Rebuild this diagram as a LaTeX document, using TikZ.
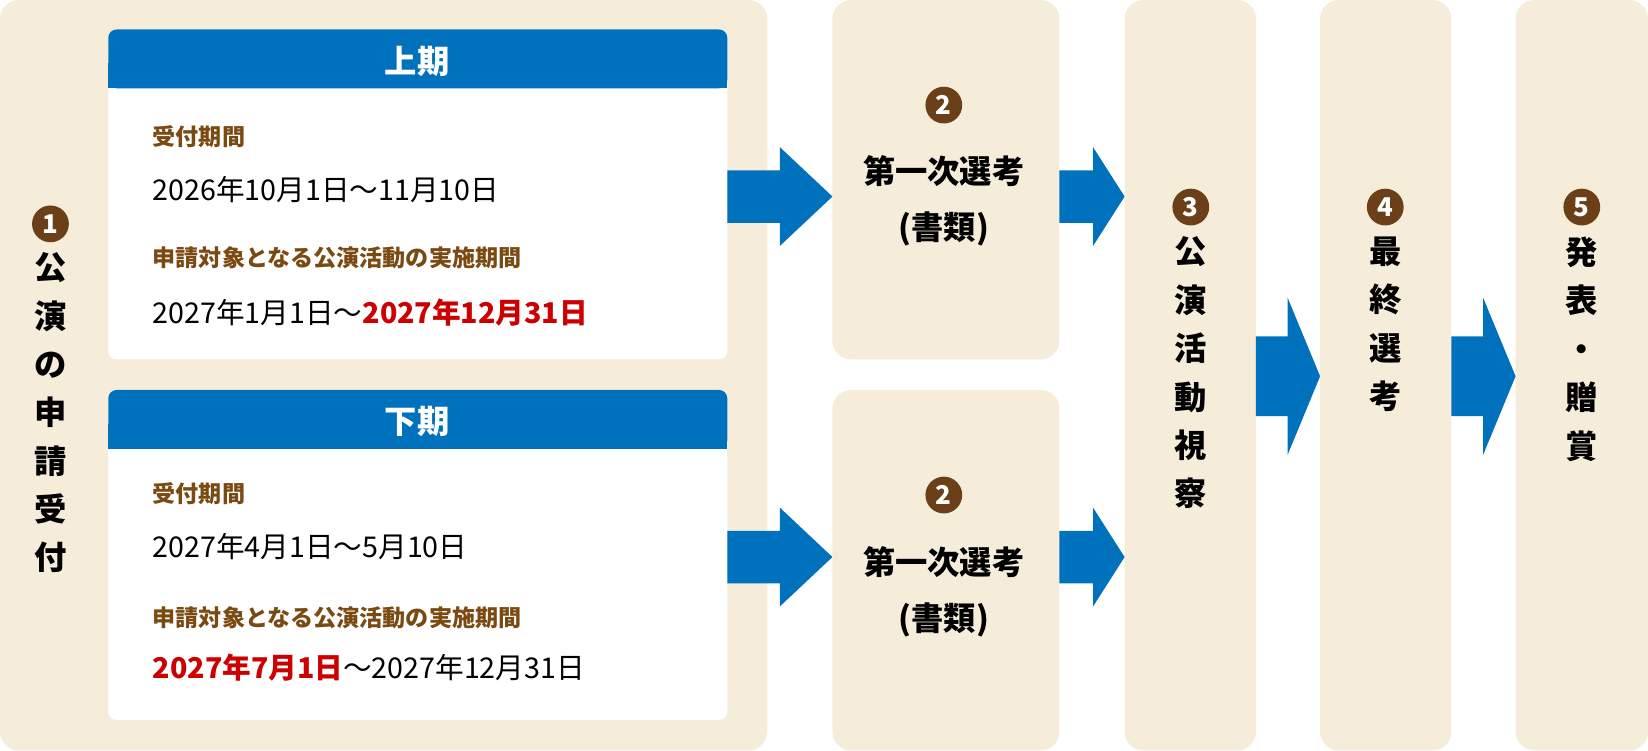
\documentclass[tikz,border=0pt]{standalone}
\usepackage{fontspec}
\setmainfont{Noto Sans CJK JP}
\usetikzlibrary{calc,positioning}
\definecolor{beige}{HTML}{F5ECD9}
\definecolor{hdblue}{HTML}{0071BC}
\definecolor{dotbrown}{HTML}{6B4019}
\definecolor{txbrown}{HTML}{7B4A12}
\definecolor{dred}{HTML}{CC0000}
\tikzset{
  panel/.style={fill=beige, rounded corners=0.36cm},
  card/.style={fill=white, rounded corners=0.16cm},
  head/.style={fill=hdblue, rounded corners=0.16cm},
  num/.style={circle, fill=dotbrown, text=white, minimum size=0.7cm, inner sep=0pt, font=\fontsize{14}{14}\selectfont\bfseries},
  label/.style={anchor=west, inner sep=0pt, text=txbrown, font=\fontsize{12.5}{14}\selectfont\bfseries},
  date/.style={anchor=west, inner sep=0pt, font=\fontsize{15.5}{18}\selectfont},
  big/.style={inner sep=0pt, font=\fontsize{17.5}{20}\selectfont\bfseries},
  vert/.style={anchor=north, inner sep=0pt, align=center, font=\fontsize{17.5}{26.2}\selectfont\bfseries},
}
\newcommand{\flowarrow}[5]{% x0, xh, x1, y, shaft half / head half
  \fill[hdblue] (#1,#4-#5) -- (#2,#4-#5) -- (#2,#4-2*#5+#5*0) -- cycle;}
\newcommand{\blockarrow}[6]{% x0 xh x1 y shafthalf headhalf
  \fill[hdblue] (#1,#4-#5) -- (#2,#4-#5) -- (#2,#4-#6) -- (#3,#4) -- (#2,#4+#6) -- (#2,#4+#5) -- (#1,#4+#5) -- cycle;}
\begin{document}
\begin{tikzpicture}[x=0.02cm, y=-0.02cm]
\useasboundingbox (0,0) rectangle (1568,714);
% panels
\fill[panel] (0,0) rectangle (730,714);
\fill[panel] (792,0) rectangle (1008,342);
\fill[panel] (792,371) rectangle (1008,714);
\fill[panel] (1070,0) rectangle (1195,714);
\fill[panel] (1256,0) rectangle (1381,714);
\fill[panel] (1442,0) rectangle (1568,714);
% step 1
\node[num] (n1) at (48,213) {1};
\node[vert] (t1) at (48,240) {公\\演\\の\\申\\請\\受\\付};
% upper term
\fill[card] (103,28) rectangle (692,342);
\fill[head] (103,28) rectangle (692,84);
\fill[hdblue] (103,60) rectangle (692,84);
\node[big, text=white] (h1) at (397,58) {上期};
\node[label] (a1) at (145,130) {受付期間};
\node[date] (b1) at (145,180) {2026年10月1日～11月10日};
\node[label] (c1) at (145,245) {申請対象となる公演活動の実施期間};
\node[date] (d1) at (145,297) {2027年1月1日～\textcolor{dred}{\bfseries 2027年12月31日}};
% lower term
\fill[card] (103,371) rectangle (692,685);
\fill[head] (103,371) rectangle (692,427);
\fill[hdblue] (103,403) rectangle (692,427);
\node[big, text=white] (h2) at (397,401) {下期};
\node[label] (a2) at (145,470) {受付期間};
\node[date] (b2) at (145,520) {2027年4月1日～5月10日};
\node[label] (c2) at (145,588) {申請対象となる公演活動の実施期間};
\node[date] (d2) at (145,635) {\textcolor{dred}{\bfseries 2027年7月1日}～2027年12月31日};
% step 2
\node[num] (n2a) at (898,100) {2};
\node[big] (s2a) at (898,163) {第一次選考};
\node[big] (p2a) at (898,218) {(書類)};
\node[num] (n2b) at (898,471) {2};
\node[big] (s2b) at (898,535) {第一次選考};
\node[big] (p2b) at (898,590) {(書類)};
% steps 3-5
\node[num] (n3) at (1133,197) {3};
\node[vert] (t3) at (1133,225) {公\\演\\活\\動\\視\\察};
\node[num] (n4) at (1318,197) {4};
\node[vert] (t4) at (1318,225) {最\\終\\選\\考};
\node[num] (n5) at (1505,197) {5};
\node[vert] (t5) at (1505,225) {発\\表\\・\\贈\\賞};
% arrows
\blockarrow{692}{742}{792}{187}{25}{47}
\blockarrow{1008}{1040}{1070}{187}{25}{47}
\blockarrow{692}{742}{792}{530}{25}{47}
\blockarrow{1008}{1040}{1070}{530}{25}{47}
\blockarrow{1195}{1225}{1256}{358}{38}{75}
\blockarrow{1381}{1411}{1442}{358}{38}{75}
\end{tikzpicture}
\end{document}
